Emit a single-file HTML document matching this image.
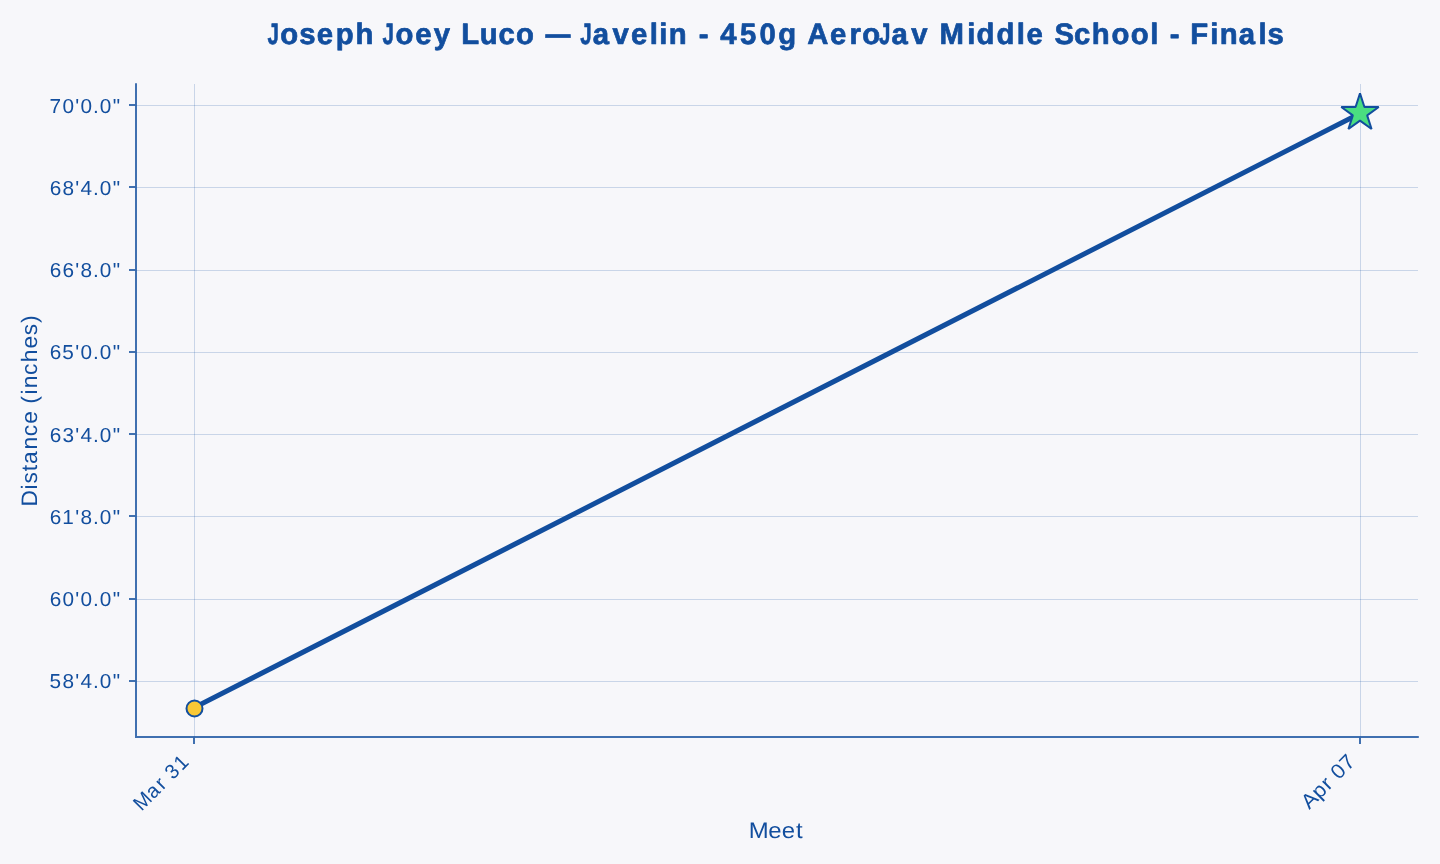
<!DOCTYPE html>
<html lang="en">
<head>
<meta charset="utf-8">
<title>Joseph Joey Luco — Javelin - 450g AeroJav Middle School - Finals</title>
<style>
html,body{margin:0;padding:0;background:#f7f7fa;}
body{width:1440px;height:864px;overflow:hidden;font-family:"Liberation Sans",sans-serif;}
svg{display:block;will-change:transform;}
text{font-family:"Liberation Sans",sans-serif;fill:#124e9e;white-space:pre;text-rendering:geometricPrecision;}
.grid line{stroke:#124e9e;stroke-opacity:.2;stroke-width:1;}
.axis{stroke:#124e9e;stroke-width:1.6;fill:none;}
</style>
</head>
<body>
<svg width="1440" height="864" viewBox="0 0 1440 864" role="img" aria-label="Line chart of javelin distance by meet">
<rect width="1440" height="864" fill="#f7f7fa"/>
<g class="grid">
<line x1="194.5" y1="84" x2="194.5" y2="737"/>
<line x1="1360.5" y1="84" x2="1360.5" y2="737"/>
<line x1="136" y1="681.5" x2="1418" y2="681.5"/>
<line x1="136" y1="599.5" x2="1418" y2="599.5"/>
<line x1="136" y1="516.5" x2="1418" y2="516.5"/>
<line x1="136" y1="434.5" x2="1418" y2="434.5"/>
<line x1="136" y1="352.5" x2="1418" y2="352.5"/>
<line x1="136" y1="270.5" x2="1418" y2="270.5"/>
<line x1="136" y1="187.5" x2="1418" y2="187.5"/>
<line x1="136" y1="105.5" x2="1418" y2="105.5"/>
</g>
<line x1="194.03" y1="707.68" x2="1360.1" y2="113.3" stroke="#124e9e" stroke-width="5" stroke-linecap="square"/>
<path d="M135,83.2H137V736H1418.8V738H135Z" fill="#124e9e" fill-opacity=".8"/>
<g class="axis">
<line x1="129" y1="681" x2="135.2" y2="681"/>
<line x1="129" y1="599" x2="135.2" y2="599"/>
<line x1="129" y1="516" x2="135.2" y2="516"/>
<line x1="129" y1="434" x2="135.2" y2="434"/>
<line x1="129" y1="352" x2="135.2" y2="352"/>
<line x1="129" y1="270" x2="135.2" y2="270"/>
<line x1="129" y1="187" x2="135.2" y2="187"/>
<line x1="129" y1="105" x2="135.2" y2="105"/>
<line x1="194" y1="737.8" x2="194" y2="744"/>
<line x1="1360" y1="737.8" x2="1360" y2="744"/>
</g>
<circle cx="194.5" cy="708.5" r="8" fill="#f9c835" stroke="#124e9e" stroke-width="2"/>
<polygon points="1360.00,93.40 1355.58,107.01 1341.26,107.01 1352.84,115.43 1348.42,129.04 1360.00,120.62 1371.58,129.04 1367.16,115.43 1378.74,107.01 1364.42,107.01" fill="#4ade80" stroke="#124e9e" stroke-width="2" stroke-linejoin="bevel"/>
<text transform="translate(270.00,44.00) scale(1.0473,1.0563)" font-size="28" font-weight="bold" stroke="#124e9e" stroke-width="0.666" stroke-linejoin="round" x="-2.33 9.90 28.01 44.74 62.84 81.74 100.99 107.51 119.74 138.67 156.48 174.17 182.63 200.33 218.15 234.90 253.77 263.14 289.81 296.34 308.21 326.98 344.60 362.62 371.78 380.85 400.04 409.42 420.44 430.03 448.85 467.42 485.31 504.70 513.00 534.76 553.40 565.51 581.60 593.48 612.24 629.80 639.36 665.66 674.62 693.75 713.10 722.38 740.46 748.99 767.61 784.66 803.40 821.77 840.58 849.80 859.19 870.21 878.61 897.72 906.79 925.12 943.96 952.43"><tspan textLength="10.90" lengthAdjust="spacingAndGlyphs">J</tspan>oseph <tspan textLength="10.90" lengthAdjust="spacingAndGlyphs">J</tspan>oey Luco <tspan textLength="23.80" lengthAdjust="spacingAndGlyphs">—</tspan> <tspan textLength="10.90" lengthAdjust="spacingAndGlyphs">J</tspan>avelin - 450g Aero<tspan textLength="10.90" lengthAdjust="spacingAndGlyphs">J</tspan>av Middle School - Finals</text>
<text transform="translate(49.10,687.80) scale(1.0400,1.0093)" font-size="20" x="0.48 12.79 25.20 30.31 42.26 48.66 61.21">58'4.0"</text>
<text transform="translate(49.10,605.80) scale(1.0400,1.0093)" font-size="20" x="0.55 12.79 25.20 30.31 42.26 48.66 61.21">60'0.0"</text>
<text transform="translate(49.10,523.80) scale(1.0400,1.0093)" font-size="20" x="0.55 12.69 25.20 30.31 42.26 48.66 61.21">61'8.0"</text>
<text transform="translate(49.10,441.80) scale(1.0400,1.0093)" font-size="20" x="0.55 12.81 25.20 30.31 42.26 48.66 61.21">63'4.0"</text>
<text transform="translate(49.10,358.80) scale(1.0400,1.0093)" font-size="20" x="0.55 12.71 25.20 30.31 42.26 48.66 61.21">65'0.0"</text>
<text transform="translate(49.10,276.80) scale(1.0400,1.0093)" font-size="20" x="0.55 12.79 25.20 30.31 42.26 48.66 61.21">66'8.0"</text>
<text transform="translate(49.10,194.80) scale(1.0400,1.0093)" font-size="20" x="0.55 12.79 25.20 30.31 42.26 48.66 61.21">68'4.0"</text>
<text transform="translate(49.10,112.80) scale(1.0400,1.0093)" font-size="20" x="0.51 12.79 25.20 30.31 42.26 48.66 61.21">70'0.0"</text>
<text transform="translate(141.38,811.88) rotate(-45) scale(0.9987,1.0232)" font-size="20" x="0.21 17.05 30.70 38.15 44.91 57.53">Mar 31</text>
<text transform="translate(1309.50,809.75) rotate(-45) scale(1.0963,1.0318)" font-size="20" x="-0.26 12.97 24.91 31.76 37.74 49.32">Apr 07</text>
<text transform="translate(749.08,837.90) scale(1.0870,1.0188)" font-size="22" x="-0.41 17.62 30.07 43.22">Meet</text>
<text transform="translate(36.50,506.88) rotate(-90) scale(1.0354,1.0165)" font-size="22" x="0.40 16.91 22.53 34.43 41.36 55.44 68.32 80.38 93.27 99.65 108.50 114.60 127.49 139.72 153.01 165.80 177.69">Distance (inches)</text>
</svg>
</body>
</html>
